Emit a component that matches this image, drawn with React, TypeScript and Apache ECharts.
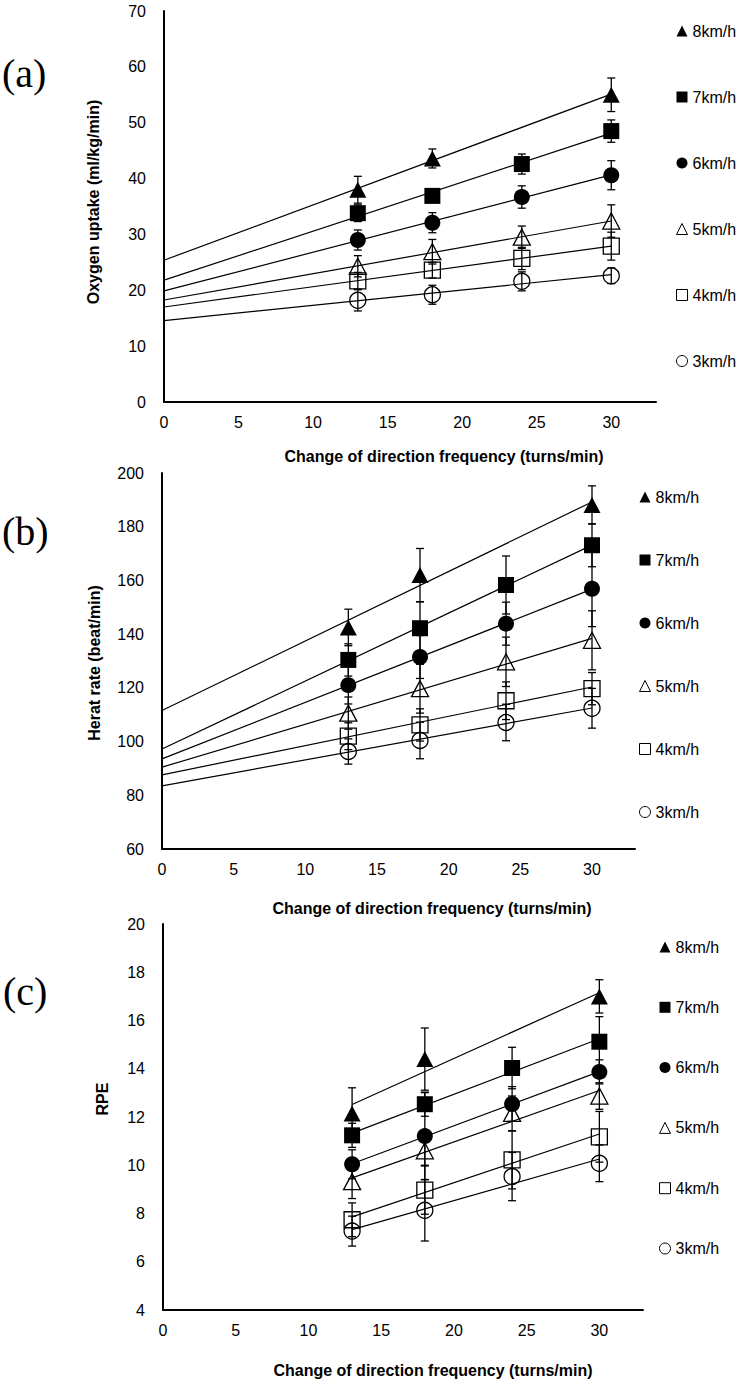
import React, { useEffect, useRef } from "react";
import * as echarts from "echarts";

// ---- data ----
const TURNS = [13, 18, 24, 30];
const SPEEDS = ["8km/h", "7km/h", "6km/h", "5km/h", "4km/h", "3km/h"];
const SYMBOLS = ["triangle", "rect", "circle", "triangle", "rect", "circle"];
const FILLED = [true, true, true, false, false, false];
const X_TICKS_MAX = 33;

// (a) Oxygen uptake (ml/kg/min)
const vo2_8 = [38.0, 43.6, null, 55.0];
const vo2_7 = [33.8, 36.9, 42.6, 48.5];
const vo2_6 = [29.0, 32.1, 36.7, 40.6];
const vo2_5 = [24.3, 26.9, 29.5, 32.4];
const vo2_4 = [21.7, 23.6, 25.7, 27.9];
const vo2_3 = [18.2, 19.2, 21.6, 22.6];
const vo2Sd_8 = [2.4, 1.7, null, 3.0];
const vo2Sd_7 = [1.5, 1.2, 1.8, 2.0];
const vo2Sd_6 = [1.8, 1.8, 2.0, 2.6];
const vo2Sd_5 = [1.9, 2.2, 2.0, 2.9];
const vo2Sd_4 = [1.5, 1.4, 2.0, 2.5];
const vo2Sd_3 = [1.9, 1.7, 1.7, 1.4];

// (b) Heart rate (beat/min)
const hr_8 = [142.5, 162.0, null, 188.1];
const hr_7 = [130.4, 142.2, 158.3, 173.1];
const hr_6 = [121.0, 131.5, 143.9, 156.9];
const hr_5 = [110.6, 119.7, 129.7, 137.7];
const hr_4 = [102.0, 106.2, 115.2, 119.7];
const hr_3 = [96.3, 100.4, 107.1, 112.4];
const hrSd_8 = [6.8, 9.9, null, 7.1];
const hrSd_7 = [6.0, 9.8, 10.8, 8.0];
const hrSd_6 = [7.0, 8.0, 8.0, 14.1];
const hrSd_5 = [6.0, 9.1, 9.2, 11.0];
const hrSd_4 = [5.0, 6.0, 7.0, 6.0];
const hrSd_3 = [4.7, 6.8, 6.8, 7.4];

// (c) RPE
const rpe_8 = [12.15, 14.4, null, 17.0];
const rpe_7 = [11.24, 12.53, 14.03, 15.12];
const rpe_6 = [10.04, 11.21, 12.54, 13.87];
const rpe_5 = [9.32, 10.6, 12.15, 12.87];
const rpe_4 = [7.74, 8.97, 10.22, 11.18];
const rpe_3 = [7.27, 8.13, 9.53, 10.08];
const rpeSd_8 = [1.06, 1.29, null, 0.69];
const rpeSd_7 = [0.5, 0.5, 0.86, 1.04];
const rpeSd_6 = [0.6, 1.8, 0.72, 0.5];
const rpeSd_5 = [0.7, 0.6, 0.72, 0.55];
const rpeSd_4 = [0.7, 1.0, 1.2, 1.05];
const rpeSd_3 = [0.62, 1.27, 1.0, 0.76];

const PANEL_VALUES = [
  [vo2_8, vo2_7, vo2_6, vo2_5, vo2_4, vo2_3],
  [hr_8, hr_7, hr_6, hr_5, hr_4, hr_3],
  [rpe_8, rpe_7, rpe_6, rpe_5, rpe_4, rpe_3],
];
const PANEL_SD = [
  [vo2Sd_8, vo2Sd_7, vo2Sd_6, vo2Sd_5, vo2Sd_4, vo2Sd_3],
  [hrSd_8, hrSd_7, hrSd_6, hrSd_5, hrSd_4, hrSd_3],
  [rpeSd_8, rpeSd_7, rpeSd_6, rpeSd_5, rpeSd_4, rpeSd_3],
];
const TREND_FROM = [0, 0, 13];
const Y_MIN = [0, 60, 4];
const Y_MAX = [70, 200, 20];
const Y_STEP = [10, 20, 2];
const Y_TITLES = ["Oxygen uptake (ml/kg/min)", "Herat rate (beat/min)", "RPE"];
const X_TITLE = "Change of direction frequency (turns/min)";
const PANEL_LABELS = ["(a)", "(b)", "(c)"];

// ---- layout ----
const GRIDS = [
  { left: 164, top: 11, width: 492, height: 391 },
  { left: 162, top: 473, width: 473, height: 376 },
  { left: 163, top: 924, width: 480, height: 386 },
];
const LEGENDS = [
  { left: 676, top: 23, gap: 50 },
  { left: 639, top: 489, gap: 47 },
  { left: 659, top: 939, gap: 44.3 },
];
const X_TITLE_POS = [[444, 456], [432, 908], [433, 1370]];
const Y_TITLE_POS = [[93, 202], [94, 663], [102, 1099]];
const PANEL_LABEL_POS = [[2, 73], [2, 531], [3, 991]];

const FONT = "Liberation Sans";

function regression(xs: number[], ys: (number | null)[]) {
  const pts = xs.map((x, i) => [x, ys[i]]).filter((p) => p[1] != null) as number[][];
  const n = pts.length;
  const mx = pts.reduce((s, p) => s + p[0], 0) / n;
  const my = pts.reduce((s, p) => s + p[1], 0) / n;
  let sxy = 0, sxx = 0;
  pts.forEach((p) => { sxy += (p[0] - mx) * (p[1] - my); sxx += (p[0] - mx) * (p[0] - mx); });
  const b = sxy / sxx;
  return { a: my - b * mx, b };
}

function buildSeries() {
  const series: any[] = [];
  for (let p = 0; p < 3; p++) {
    for (let s = 0; s < SPEEDS.length; s++) {
      const vals = PANEL_VALUES[p][s];
      const sds = PANEL_SD[p][s];
      const pts: number[][] = [];
      const errs: number[][] = [];
      TURNS.forEach((x, i) => {
        if (vals[i] != null) {
          pts.push([x, vals[i] as number]);
          errs.push([x, vals[i] as number, (sds[i] as number) || 0]);
        }
      });
      // error bars
      series.push({
        type: "custom",
        xAxisIndex: p,
        yAxisIndex: p,
        silent: true,
        z: 2,
        encode: { x: 0, y: 1 },
        data: errs,
        renderItem: (params: any, api: any) => {
          const x = api.value(0), y = api.value(1), e = api.value(2);
          const top = api.coord([x, y + e]);
          const bot = api.coord([x, y - e]);
          const hw = 4;
          const st = { stroke: "#000", lineWidth: 1.3 };
          return {
            type: "group",
            children: [
              { type: "line", shape: { x1: top[0], y1: top[1], x2: bot[0], y2: bot[1] }, style: st },
              { type: "line", shape: { x1: top[0] - hw, y1: top[1], x2: top[0] + hw, y2: top[1] }, style: st },
              { type: "line", shape: { x1: bot[0] - hw, y1: bot[1], x2: bot[0] + hw, y2: bot[1] }, style: st },
            ],
          };
        },
      });
      // trend line
      const { a, b } = regression(TURNS, vals);
      const x0 = TREND_FROM[p];
      const x1 = TURNS[TURNS.length - 1];
      series.push({
        type: "line",
        xAxisIndex: p,
        yAxisIndex: p,
        silent: true,
        z: 3,
        symbol: "none",
        showSymbol: false,
        lineStyle: { color: "#000", width: 1.2 },
        data: [[x0, a + b * x0], [x1, a + b * x1]],
      });
      // markers
      const sym = SYMBOLS[s];
      series.push({
        type: "scatter",
        name: SPEEDS[s],
        xAxisIndex: p,
        yAxisIndex: p,
        z: 4,
        symbol: sym,
        symbolSize: sym === "triangle" ? [17, 16] : 16,
        itemStyle: FILLED[s]
          ? { color: "#000", borderWidth: 0, opacity: 1 }
          : { color: "rgba(255,255,255,0)", borderColor: "#000", borderWidth: 1.3, opacity: 1 },
        data: pts,
      });
    }
  }
  return series;
}

export default function App() {
  const ref = useRef<HTMLDivElement>(null);
  useEffect(() => {
    if (!ref.current) return;
    const chart = echarts.init(ref.current, null, { renderer: "svg" });
    const labelStyle = { color: "#000", fontSize: 16, fontFamily: FONT };
    const option: any = {
      animation: false,
      backgroundColor: "#fff",
      grid: GRIDS.map((g) => ({ ...g, containLabel: false })),
      xAxis: GRIDS.map((_, i) => ({
        type: "value",
        gridIndex: i,
        min: 0,
        max: X_TICKS_MAX,
        interval: 5,
        splitLine: { show: false },
        axisTick: { show: false },
        axisLine: { show: true, onZero: false, lineStyle: { color: "#000", width: 2 } },
        axisLabel: {
          ...labelStyle,
          margin: 12,
          formatter: (v: number) => (v % 5 === 0 ? String(v) : ""),
        },
      })),
      yAxis: GRIDS.map((_, i) => ({
        type: "value",
        gridIndex: i,
        min: Y_MIN[i],
        max: Y_MAX[i],
        interval: Y_STEP[i],
        splitLine: { show: false },
        axisTick: { show: false },
        axisLine: { show: true, onZero: false, lineStyle: { color: "#000", width: 2 } },
        axisLabel: { ...labelStyle, margin: 18 },
      })),
      legend: LEGENDS.map((lg) => ({
        orient: "vertical",
        left: lg.left,
        top: lg.top,
        padding: 0,
        itemGap: lg.gap,
        itemWidth: 11,
        itemHeight: 11,
        selectedMode: false,
        textStyle: { color: "#000", fontSize: 16, fontFamily: FONT, lineHeight: 16 },
        data: SPEEDS.map((name, s) => ({
          name,
          icon: SYMBOLS[s],
          itemStyle: FILLED[s]
            ? { color: "#000", borderWidth: 0, opacity: 1 }
            : { color: "rgba(255,255,255,0)", borderColor: "#000", borderWidth: 1, opacity: 1 },
        })),
      })),
      graphic: [
        ...X_TITLE_POS.map(([x, y]) => ({
          type: "text",
          x,
          y,
          style: {
            text: X_TITLE,
            fill: "#000",
            fontSize: 16,
            fontWeight: "bold",
            fontFamily: FONT,
            align: "center",
            verticalAlign: "middle",
            textAlign: "center",
            textVerticalAlign: "middle",
          },
        })),
        ...Y_TITLE_POS.map(([x, y], i) => ({
          type: "text",
          x,
          y,
          rotation: Math.PI / 2,
          style: {
            text: Y_TITLES[i],
            fill: "#000",
            fontSize: 16,
            fontWeight: "bold",
            fontFamily: FONT,
            align: "center",
            verticalAlign: "middle",
            textAlign: "center",
            textVerticalAlign: "middle",
          },
        })),
        ...PANEL_LABEL_POS.map(([x, y], i) => ({
          type: "text",
          x,
          y,
          style: {
            text: PANEL_LABELS[i],
            fill: "#000",
            fontSize: 40,
            fontFamily: "Liberation Serif",
            align: "left",
            verticalAlign: "middle",
            textAlign: "left",
            textVerticalAlign: "middle",
          },
        })),
      ],
      series: buildSeries(),
    };
    chart.setOption(option);
    return () => chart.dispose();
  }, []);
  return (
    <div
      ref={ref}
      style={{ position: "absolute", left: 0, top: 0, width: 739, height: 1383, background: "#fff" }}
    />
  );
}
